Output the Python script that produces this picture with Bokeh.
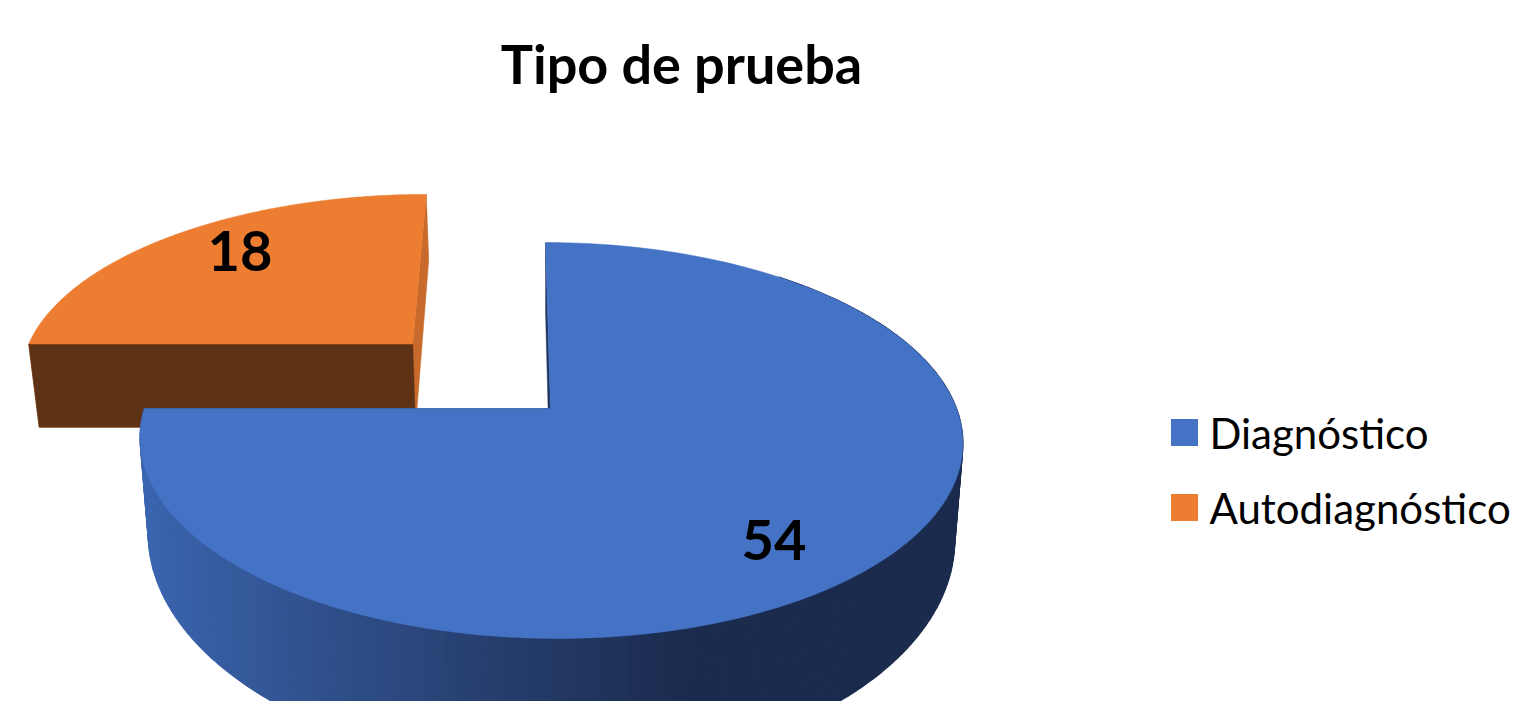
import numpy as np
from bokeh.plotting import figure
from bokeh.models import Range1d, Label, ColumnDataSource
from bokeh.core.properties import value
from bokeh.embed import file_html
from bokeh.resources import INLINE

# ---- data ----
title = "Tipo de prueba"
categories = ["Diagnóstico", "Autodiagnóstico"]
values = [54, 18]

# ---- styles ----
top_colors = ["#4472C4", "#ED7D31"]
cut_colors = ["#1F3560", "#C86A2B"]
front_face_colors = [None, "#5E3215"]
explode = [0.0, 0.5]
FONT = "Lato"

# projection / layout parameters (screen pixel space)
cx, cy = 550.0, 408.0
rx, ry = 406.0, 192.8
k, a = 0.1616, 36.0
H, k2, m = 92.0, 0.30, 0.02


def proj(u, v, bottom=False):
    u = np.asarray(u, dtype=float)
    v = np.asarray(v, dtype=float)
    w = 1.0 + k * v
    x = cx + (rx * u + a) / w - a
    y = cy - ry * v / w
    if bottom:
        d = H / (1.0 + k2 * v)
        x = x + (cx - x) * m
        y = y + d
    return x, y


def lerp_color(c1, c2, t):
    c1 = [int(c1[i:i + 2], 16) for i in (1, 3, 5)]
    c2 = [int(c2[i:i + 2], 16) for i in (1, 3, 5)]
    c = [round(c1[j] + (c2[j] - c1[j]) * t) for j in range(3)]
    return "#%02x%02x%02x" % tuple(c)


p = figure(width=1513, height=701, x_range=Range1d(0, 1513), y_range=Range1d(701, 0),
           output_backend="svg", toolbar_location=None, min_border=0,
           x_axis_type=None, y_axis_type=None)
p.outline_line_color = None
p.grid.visible = False

total = float(sum(values))
fr = np.array(values) / total
ends = np.cumsum(fr) * 360.0
starts = ends - fr * 360.0

slices = []
for i in range(len(values)):
    s, e = starts[i], ends[i]
    mid = np.radians((s + e) / 2)
    ou, ov = explode[i] * np.sin(mid), explode[i] * np.cos(mid)
    slices.append((s, e, ou, ov))

# draw slices back (exploded orange) first, then blue
order = [1, 0]
for i in order:
    s, e, ou, ov = slices[i]
    phis = np.radians(np.linspace(s, e, 200))
    au = ou + np.sin(phis)
    av = ov + np.cos(phis)

    # cut faces along the two radii
    for ang in (s, e):
        r = np.radians(ang)
        pu = [ou, ou + np.sin(r)]
        pv = [ov, ov + np.cos(r)]
        xt, yt = proj(pu, pv)
        xb, yb = proj(pu, pv, bottom=True)
        p.patch(list(xt) + list(xb[::-1]), list(yt) + list(yb[::-1]),
                fill_color=cut_colors[i], line_color=cut_colors[i], line_width=0.5)

    # front face along the horizontal radius (orange)
    if front_face_colors[i]:
        r = np.radians(s)
        pu = [ou + np.sin(r), ou]
        pv = [ov + np.cos(r), ov]
        xt, yt = proj(pu, pv)
        xb, yb = proj(pu, pv, bottom=True)
        p.patch(list(xt) + list(xb[::-1]), list(yt) + list(yb[::-1]),
                fill_color=front_face_colors[i], line_color=front_face_colors[i], line_width=0.5)

    # curved outer side for blue (gradient strips, far first)
    if i == 0:
        lo, hi = max(s, 40.0), min(e, 270.0)
        edges = np.linspace(lo, hi, 160)
        segs = list(zip(edges[:-1], edges[1:]))
        segs.sort(key=lambda se: np.cos(np.radians((se[0] + se[1]) / 2)), reverse=True)
        xs_list, ys_list, cols = [], [], []
        for a0, a1 in segs:
            pp = np.radians(np.linspace(a0, a1, 4))
            uu, vv = ou + np.sin(pp), ov + np.cos(pp)
            xt, yt = proj(uu, vv)
            xb, yb = proj(uu, vv, bottom=True)
            xs_list.append(list(xt) + list(xb[::-1]))
            ys_list.append(list(yt) + list(yb[::-1]))
            xm = float(np.mean(xt))
            t = min(max((xm - 145.0) / (690.0 - 145.0), 0.0), 1.0) ** 0.9
            cols.append(lerp_color("#3B65AF", "#1B2B4E", t))
        p.patches(xs_list, ys_list, fill_color=cols, line_color=cols, line_width=1.2)

    # top face
    xt, yt = proj(np.concatenate([[ou], au, [ou]]), np.concatenate([[ov], av, [ov]]))
    p.patch(list(xt), list(yt), fill_color=top_colors[i], line_color=top_colors[i], line_width=0.5)

# data labels
lab_r = 0.8
lx, ly = [], []
for i in range(len(values)):
    s, e, ou, ov = slices[i]
    mid = np.radians((s + e) / 2)
    x, y = proj(ou + lab_r * np.sin(mid), ov + lab_r * np.cos(mid))
    lx.append(float(x)); ly.append(float(y))
lsrc = ColumnDataSource(dict(x=lx, y=ly, text=[str(v) for v in values],
                             xo=[-33, 19], yo=[11, -3]))
p.text(x="x", y="y", text="text", source=lsrc, x_offset="xo", y_offset="yo",
       text_font=value(FONT), text_font_style="bold", text_font_size="56px",
       text_align="center", text_baseline="middle", text_color="black")

# title
p.add_layout(Label(x=681, y=63, text=title, text_font=FONT, text_font_style="bold",
                   text_font_size="54px", text_align="center", text_baseline="alphabetic",
                   text_color="black"))

# legend (manual)
leg_y = [432 + 75 * i for i in range(len(categories))]
p.scatter(x=[1184] * len(categories), y=leg_y, marker="square", size=27,
          fill_color=top_colors, line_color=None)
p.text(x=[1209] * len(categories), y=leg_y, text=categories, text_font=value(FONT),
       text_font_size="42px", text_align="left", text_baseline="middle", text_color="black")

open("out.html", "w").write(file_html(p, INLINE))
